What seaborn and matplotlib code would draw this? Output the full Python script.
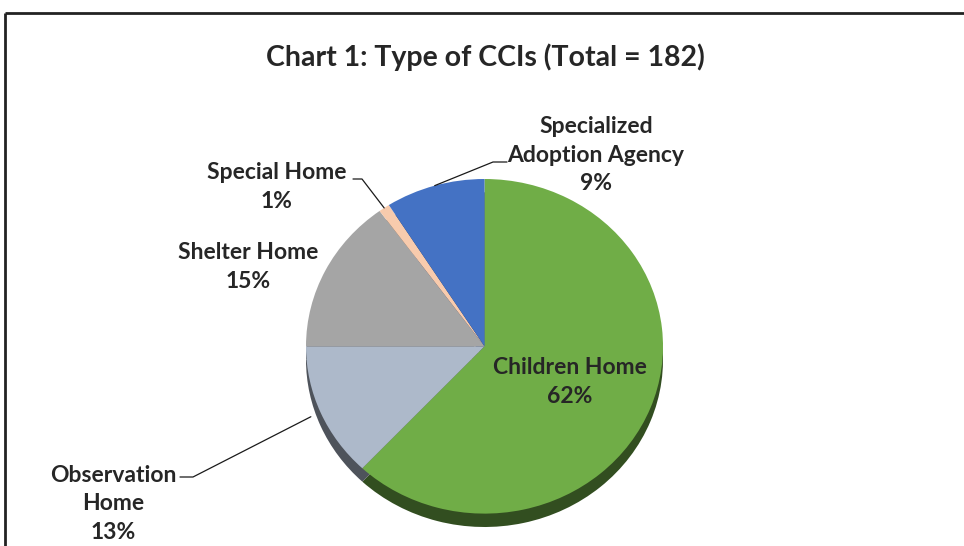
import matplotlib
matplotlib.use('Agg')
import matplotlib.pyplot as plt
import numpy as np
import seaborn as sns
from matplotlib.colors import to_rgb

# data (percent of 182 CCIs)
categories = ['Children Home', 'Observation Home', 'Shelter Home',
              'Special Home', 'Specialized Adoption Agency']
shares = [62, 13, 15, 1, 9]
label_names = ['Children Home', 'Observation\nHome', 'Shelter Home',
               'Special Home', 'Specialized\nAdoption Agency']
title = 'Chart 1: Type of CCIs (Total = 182)'

palette = ['#70AD47', '#ADB9CA', '#A5A5A5', '#F8CBAD', '#4472C4']

sns.set_theme(style='white')
plt.rcParams['font.family'] = ['Lato', 'DejaVu Sans']
txt_color = '#262626'

W, H = 964, 546
fig = plt.figure(figsize=(W / 100, H / 100), dpi=100)
fig.patch.set_facecolor('white')


def box(x0, y0, x1, y1):
    # pixel box (y down) -> figure fraction rect
    return [x0 / W, 1 - y1 / H, (x1 - x0) / W, (y1 - y0) / H]


# pie, slightly squashed, with a dark offset copy underneath for depth
depth = 0.08
pie_ax = fig.add_axes(box(306, 179, 663, 527))
side = [tuple(c * 0.45 for c in to_rgb(p)) for p in palette]
pie_ax.pie(shares, colors=side, startangle=90, counterclock=False,
           center=(0, -depth), wedgeprops=dict(linewidth=0))
wedges, _ = pie_ax.pie(shares, colors=palette, startangle=90,
                       counterclock=False, wedgeprops=dict(linewidth=0))
pie_ax.set_aspect('auto')
pie_ax.set_xlim(-1, 1)
pie_ax.set_ylim(-1 - depth, 1)
pie_ax.axis('off')

# overlay in pixel coordinates for frame, title, labels and leaders
ov = fig.add_axes([0, 0, 1, 1], zorder=5)
ov.set_xlim(0, W)
ov.set_ylim(H, 0)
ov.axis('off')
ov.patch.set_alpha(0)

ov.plot([5, W], [13, 13], color='#222222', lw=2, solid_capstyle='butt')
ov.plot([5, 5], [13, H], color='#222222', lw=2, solid_capstyle='butt')

ov.text(485, 57, title, ha='center', va='center', fontsize=20.5,
        fontweight='bold', color=txt_color)


def anchor(w, r=1.0):
    a = np.deg2rad((w.theta1 + w.theta2) / 2)
    p = pie_ax.transData.transform((r * np.cos(a), r * np.sin(a)))
    return ov.transData.inverted().transform(p)


label_pos = [(570, 382), (113, 504), (248, 267), (277, 187), (596, 155)]
leader_start = [None, (180, 477), None, (353, 179), (507, 162)]
leader_knee = [None, (193, 477), None, (362, 179), (493, 162)]
anchor_r = [1.0, 1.06, 1.0, 1.0, 1.0]

for w, name, val, pos, s, k, r in zip(wedges, label_names, shares, label_pos,
                                      leader_start, leader_knee, anchor_r):
    ov.text(pos[0], pos[1], f'{name}\n{val}%', ha='center', va='center',
            fontsize=16.5, fontweight='bold', color=txt_color,
            linespacing=1.45)
    if s is not None:
        ax_, ay_ = anchor(w, r)
        ov.plot([s[0], k[0], ax_], [s[1], k[1], ay_], color='#1a1a1a',
                lw=0.9)

fig.savefig('out.png', dpi=100, facecolor='white')
